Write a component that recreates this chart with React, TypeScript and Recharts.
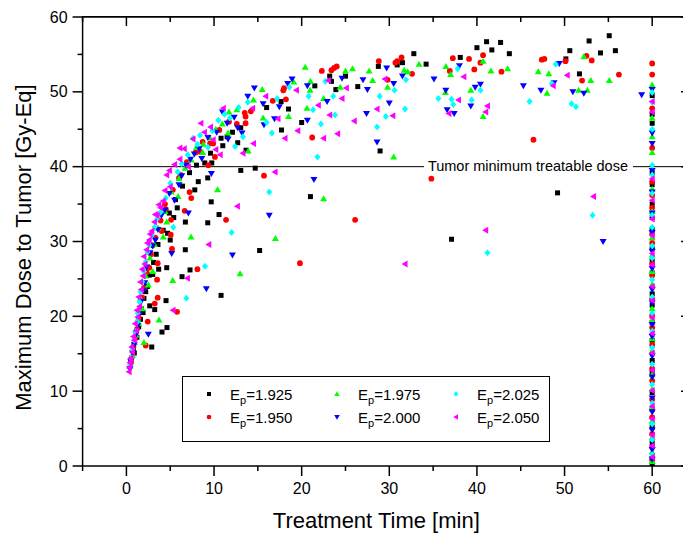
import { ScatterChart, Scatter, XAxis, YAxis, ReferenceLine, Legend, Label } from "recharts";

const FONT = '"Liberation Sans", Arial, sans-serif';

const xTicks = [-5, 0, 5, 10, 15, 20, 25, 30, 35, 40, 45, 50, 55, 60, 65];
const yTicks = [0, 5, 10, 15, 20, 25, 30, 35, 40, 45, 50, 55, 60];
const X_MIN = -5;
const X_MAX = 65;
const Y_MIN = 0;
const Y_MAX = 60;

const thresholdDose = 40;
const thresholdText = "Tumor minimum treatable dose";

// [treatment time, max dose] per beam energy
const ep1925: [number, number][] = [
  [0.5, 13.8], [0.8, 15.5], [0.9, 15.1], [1.2, 17.2], [1.4, 18.6], [1.6, 19.6], [1.7, 21.0], [1.9, 20.5],
  [2.0, 22.4], [2.2, 23.3], [2.4, 24.0], [2.6, 25.5], [2.66, 21.4], [2.89, 15.9], [3.0, 25.6], [3.1, 27.2],
  [3.23, 20.9], [3.4, 28.3], [3.6, 29.6], [3.68, 26.3], [4.06, 17.9], [4.2, 31.5], [4.52, 22.1], [4.6, 26.5],
  [4.63, 18.5], [4.7, 31.1], [4.9, 33.8], [5.0, 30.2], [5.4, 33.2], [5.6, 35.6], [5.8, 34.5], [6.35, 25.3],
  [6.4, 37.4], [6.72, 28.9], [6.73, 32.6], [7.2, 39.2], [7.26, 26.2], [7.8, 36.9], [8.0, 40.2], [8.2, 38.0],
  [8.94, 40.5], [9.28, 38.5], [9.28, 32.5], [9.6, 41.8], [9.68, 35.3], [9.74, 40.5], [10.57, 33.6], [10.8, 22.8],
  [10.8, 43.8], [11.0, 42.8], [11.5, 44.0], [12.1, 44.6], [12.7, 43.2], [13.05, 45.2], [13.05, 39.5], [13.65, 42.2],
  [14.7, 39.8], [15.2, 28.8], [16.0, 47.9], [17.65, 48.7], [17.7, 44.9], [18.5, 47.7], [20.0, 45.9], [21.0, 36.0],
  [21.5, 50.8], [23.2, 52.1], [23.4, 51.4], [23.9, 50.3], [25.0, 52.1], [26.4, 50.7], [28.75, 53.4], [28.95, 42.1],
  [30.9, 53.6], [31.5, 53.9], [32.8, 55.1], [34.2, 53.7], [37.1, 30.3], [38.1, 54.6], [40.0, 55.9], [41.1, 56.7],
  [41.7, 55.6], [42.7, 56.6], [43.7, 55.1], [49.2, 36.5], [50.15, 54.4], [50.6, 55.5], [51.7, 52.4], [52.8, 56.8],
  [54.1, 55.2], [55.1, 57.5], [55.8, 55.5],
];
const ep1950: [number, number][] = [
  [0.5, 13.9], [0.6, 14.5], [0.8, 16.0], [1.0, 17.0], [1.2, 18.3], [1.4, 19.8], [1.6, 21.1], [1.8, 22.5],
  [2.0, 23.8], [2.2, 16.1], [2.3, 25.9], [2.43, 19.3], [2.6, 26.5], [2.8, 28.3], [3.0, 29.5], [3.23, 21.7],
  [3.3, 30.5], [3.5, 24.9], [3.57, 22.5], [3.57, 27.1], [3.9, 32.8], [4.03, 31.4], [4.4, 35.0], [4.5, 34.3],
  [5.06, 30.9], [5.1, 32.9], [5.2, 29.0], [5.3, 36.9], [5.78, 20.6], [6.0, 38.5], [6.2, 38.9], [6.65, 34.1],
  [6.9, 40.6], [7.2, 36.6], [7.4, 35.8], [7.9, 41.9], [8.1, 26.3], [8.4, 42.0], [8.7, 43.3], [9.35, 40.2],
  [9.54, 43.1], [9.9, 43.1], [10.1, 41.3], [10.6, 44.9], [11.37, 32.9], [11.7, 46.0], [12.6, 45.7], [13.5, 47.2],
  [13.6, 46.7], [13.6, 45.8], [14.2, 47.4], [15.7, 38.8], [16.7, 48.8], [17.9, 50.2], [18.0, 50.5], [18.2, 49.0],
  [19.8, 27.1], [21.2, 43.9], [22.3, 52.8], [23.4, 52.9], [23.7, 53.2], [24.0, 53.4], [26.1, 32.9], [28.8, 54.1],
  [29.8, 51.6], [30.7, 53.9], [30.9, 54.1], [31.4, 54.6], [32.6, 52.4], [34.8, 38.4], [36.9, 52.8], [37.25, 54.5],
  [39.1, 54.4], [39.7, 53.0], [40.4, 53.9], [40.7, 54.9], [42.8, 52.7], [46.45, 43.6], [47.4, 54.3], [47.7, 54.4],
  [50.1, 54.1], [52.0, 51.5], [52.5, 54.8], [53.1, 54.2], [56.2, 52.3],
];
const ep1975: [number, number][] = [
  [0.4, 13.3], [0.7, 14.8], [0.9, 16.5], [1.1, 17.5], [1.3, 19.6], [1.4, 19.0], [1.6, 22.4], [1.8, 21.0],
  [2.0, 16.5], [2.2, 25.4], [2.5, 24.2], [2.7, 27.8], [3.0, 26.0], [3.2, 29.6], [3.6, 31.8], [3.72, 19.5],
  [4.2, 30.6], [4.4, 34.0], [4.6, 32.6], [5.1, 36.6], [5.28, 24.8], [5.9, 36.0], [6.0, 38.4], [6.7, 39.8],
  [7.37, 30.6], [7.4, 40.9], [8.0, 42.6], [8.7, 41.9], [8.78, 43.0], [9.5, 43.9], [10.2, 45.0], [10.4, 36.9],
  [10.95, 45.7], [11.6, 44.5], [11.7, 47.3], [12.6, 47.6], [12.97, 25.7], [13.9, 42.1], [14.5, 48.9], [15.5, 50.3],
  [15.6, 46.5], [17.0, 30.4], [18.5, 46.7], [19.1, 51.3], [20.4, 53.3], [20.6, 47.8], [20.96, 50.2], [21.0, 51.4],
  [22.5, 35.7], [22.5, 49.1], [24.4, 50.6], [25.0, 52.8], [25.8, 53.1], [27.7, 52.8], [28.1, 51.5], [29.8, 50.6],
  [30.5, 41.3], [31.7, 52.9], [32.1, 52.7], [33.4, 53.7], [36.4, 49.9], [36.45, 53.4], [37.0, 52.3], [39.3, 50.2],
  [40.7, 54.1], [40.7, 46.7], [41.6, 52.8], [43.5, 53.1], [47.0, 52.7], [48.0, 49.8], [48.2, 52.4], [51.6, 50.2],
  [52.2, 54.7], [52.6, 50.2], [53.0, 51.5], [55.1, 51.5],
];
const ep2000: [number, number][] = [
  [0.4, 13.0], [0.5, 14.0], [0.7, 15.1], [0.9, 16.2], [1.1, 17.6], [1.3, 18.8], [1.5, 20.3], [1.7, 22.0],
  [1.9, 23.4], [2.1, 24.5], [2.3, 26.6], [2.5, 17.6], [2.7, 28.5], [3.0, 29.4], [3.3, 30.2], [3.6, 31.6],
  [4.0, 33.5], [4.4, 34.2], [4.9, 36.4], [5.17, 28.4], [5.5, 35.5], [6.0, 37.6], [6.3, 38.8], [6.8, 40.2],
  [7.07, 33.8], [7.3, 41.0], [7.75, 41.7], [8.3, 42.4], [8.6, 41.1], [9.12, 23.7], [9.3, 43.9], [9.7, 39.1],
  [10.3, 44.6], [10.95, 47.3], [11.5, 45.8], [11.6, 43.7], [12.1, 28.2], [12.3, 46.6], [12.7, 45.2], [13.2, 44.5],
  [13.85, 49.4], [14.6, 50.5], [15.6, 48.4], [15.7, 45.6], [16.3, 33.5], [16.9, 46.4], [17.45, 48.0], [18.4, 51.1],
  [18.9, 51.7], [20.65, 46.2], [20.65, 50.8], [21.4, 38.3], [22.9, 48.7], [24.6, 51.8], [27.0, 51.6], [27.4, 47.1],
  [27.5, 50.3], [28.6, 43.3], [29.7, 53.2], [30.0, 48.5], [30.5, 51.1], [31.5, 52.1], [35.1, 51.7], [36.45, 50.2],
  [36.6, 47.6], [37.4, 47.1], [38.0, 53.5], [39.3, 48.1], [39.8, 50.6], [40.4, 51.0], [45.3, 50.8], [47.3, 50.2],
  [48.8, 51.2], [49.4, 53.8], [50.95, 50.0], [52.2, 49.8], [54.4, 30.0], [58.8, 49.6],
];
const ep2025: [number, number][] = [
  [0.4, 13.5], [0.5, 14.4], [0.7, 15.6], [0.9, 16.8], [1.0, 18.0], [1.2, 19.2], [1.3, 20.4], [1.5, 21.9],
  [1.6, 23.3], [1.8, 24.6], [2.0, 26.0], [2.2, 27.3], [2.4, 28.6], [2.6, 29.5], [2.9, 30.8], [3.2, 31.9],
  [3.5, 33.0], [3.9, 33.9], [4.5, 35.8], [5.0, 37.8], [5.35, 31.9], [5.86, 39.3], [6.3, 40.4], [6.84, 22.4],
  [7.0, 41.6], [7.6, 43.8], [8.1, 43.0], [8.4, 44.2], [8.97, 26.7], [9.3, 42.6], [9.8, 44.8], [10.5, 46.2],
  [11.2, 47.0], [11.8, 46.5], [12.0, 31.2], [12.4, 42.7], [12.8, 47.9], [13.3, 44.0], [13.85, 48.6], [16.0, 45.9],
  [16.3, 36.6], [16.6, 44.5], [17.2, 49.1], [18.6, 50.6], [20.8, 49.4], [21.3, 47.6], [21.8, 41.3], [22.2, 45.7],
  [22.7, 51.4], [23.6, 49.4], [23.8, 46.9], [28.6, 45.3], [28.9, 49.4], [29.6, 46.7], [30.6, 50.2], [31.8, 47.7],
  [31.9, 51.6], [35.6, 49.1], [37.1, 49.0], [37.3, 48.3], [37.8, 53.1], [39.4, 48.9], [40.4, 50.2], [41.2, 28.5],
  [46.0, 48.7], [48.55, 51.1], [49.0, 53.7], [50.8, 48.4], [51.3, 48.0], [53.2, 33.5],
];
const ep2050: [number, number][] = [
  [0.3, 12.6], [0.35, 13.2], [0.4, 13.8], [0.5, 14.4], [0.6, 15.9], [0.7, 15.2], [0.8, 17.3], [0.9, 16.8],
  [1.0, 19.0], [1.1, 18.1], [1.2, 20.8], [1.3, 19.9], [1.4, 22.6], [1.5, 21.3], [1.6, 24.6], [1.7, 23.6],
  [1.8, 26.3], [1.9, 25.4], [2.0, 28.0], [2.1, 27.0], [2.3, 28.9], [2.4, 29.8], [2.6, 30.2], [2.7, 31.0],
  [2.9, 31.4], [3.2, 32.6], [3.3, 33.6], [3.5, 33.5], [3.7, 34.9], [3.9, 34.5], [4.2, 35.4], [4.4, 36.8],
  [4.6, 38.9], [4.9, 39.5], [5.0, 37.3], [5.32, 20.8], [5.5, 40.3], [6.1, 42.5], [6.1, 41.0], [6.6, 42.4],
  [6.96, 25.1], [7.07, 40.0], [7.6, 43.7], [8.5, 45.8], [8.9, 44.6], [9.4, 29.6], [9.6, 45.3], [9.9, 43.6],
  [10.2, 42.3], [10.7, 41.6], [11.06, 47.8], [12.66, 34.7], [13.3, 41.8], [14.4, 47.8], [14.5, 43.1], [15.9, 49.4],
  [16.96, 39.3], [17.3, 46.4], [18.1, 43.8], [19.4, 50.2], [19.55, 44.8], [21.9, 48.2], [22.5, 43.8], [23.05, 51.5],
  [23.2, 46.9], [24.1, 44.4], [24.6, 49.1], [25.1, 50.5], [26.0, 46.1], [28.6, 47.7], [29.5, 51.7], [30.4, 46.8],
  [31.8, 27.0], [36.8, 47.1], [37.9, 48.9], [38.5, 52.0], [41.0, 31.5], [41.0, 47.3], [41.2, 48.1], [48.7, 50.8],
  [50.3, 52.2], [53.3, 36.0],
];

// cases stopped at the 60 min limit
const ep1925At60 = [49.5, 47.0, 45.8, 39.2, 37.6, 35.0, 33.2, 31.6, 29.1, 27.4, 25.8, 23.0, 21.5, 19.2, 16.8, 14.1, 12.5, 9.8, 7.6, 5.2, 3.1, 1.0, 0.2];
const ep1950At60 = [53.8, 52.3, 47.8, 42.5, 38.0, 36.2, 34.5, 31.0, 29.8, 27.0, 25.5, 22.3, 20.1, 18.5, 16.2, 13.0, 11.4, 8.9, 6.5, 4.3, 2.5, 0.8];
const ep1975At60 = [50.9, 46.5, 44.0, 41.9, 37.0, 34.0, 30.5, 28.2, 26.0, 24.3, 21.0, 19.5, 17.0, 15.4, 12.2, 10.3, 7.9, 6.0, 3.8, 1.9, 0.6];
const ep2000At60 = [50.3, 44.5, 43.1, 39.5, 36.6, 33.8, 31.2, 28.7, 26.4, 23.6, 21.8, 18.9, 17.3, 14.7, 11.9, 9.1, 7.2, 4.8, 2.2, 0.9];
const ep2025At60 = [49.9, 48.6, 45.0, 40.2, 38.9, 36.4, 33.5, 31.9, 29.4, 27.8, 24.9, 22.6, 20.4, 18.0, 15.8, 13.6, 10.9, 8.4, 5.6, 3.5, 1.5];
const ep2050At60 = [48.7, 47.3, 38.4, 35.5, 33.0, 30.8, 28.4, 26.9, 24.0, 22.1, 19.8, 17.7, 15.1, 12.8, 10.1, 8.0, 6.3, 4.1, 2.7, 1.2];

const series = [
  { label: "1.925", color: "#000000", kind: "square", points: ep1925, at60: ep1925At60 },
  { label: "1.950", color: "#ff0000", kind: "circle", points: ep1950, at60: ep1950At60 },
  { label: "1.975", color: "#00ff00", kind: "up", points: ep1975, at60: ep1975At60 },
  { label: "2.000", color: "#0000ff", kind: "down", points: ep2000, at60: ep2000At60 },
  { label: "2.025", color: "#00ffff", kind: "diamond", points: ep2025, at60: ep2025At60 },
  { label: "2.050", color: "#ff00ff", kind: "left", points: ep2050, at60: ep2050At60 },
];

function Marker({ cx, cy, kind, color, s = 1 }: any) {
  if (cx == null || cy == null) return null;
  const a = 3.5 * s;
  const b = 2.5 * s;
  switch (kind) {
    case "square":
      return <rect x={cx - 2.5 * s} y={cy - 2.5 * s} width={5 * s} height={5 * s} fill={color} />;
    case "circle":
      return <circle cx={cx} cy={cy} r={2.9 * s} fill={color} />;
    case "up":
      return <polygon points={`${cx},${cy - a} ${cx - a},${cy + b} ${cx + a},${cy + b}`} fill={color} />;
    case "down":
      return <polygon points={`${cx},${cy + a} ${cx - a},${cy - b} ${cx + a},${cy - b}`} fill={color} />;
    case "diamond":
      return <polygon points={`${cx},${cy - a} ${cx + 3 * s},${cy} ${cx},${cy + a} ${cx - 3 * s},${cy}`} fill={color} />;
    default:
      return <polygon points={`${cx - a},${cy} ${cx + b},${cy - a} ${cx + b},${cy + a}`} fill={color} />;
  }
}

function BottomTick({ x, y, payload }: any) {
  const v = payload.value;
  const major = v % 10 === 0;
  return (
    <g>
      <line x1={x} x2={x} y1={y} y2={y + (major ? 10 : 5)} stroke="#000" strokeWidth={1.5} />
      {major && (
        <text x={x} y={y + 28} textAnchor="middle" fontSize={16} fontFamily={FONT} fill="#000">
          {v}
        </text>
      )}
    </g>
  );
}

function LeftTick({ x, y, payload }: any) {
  const v = payload.value;
  const major = v % 10 === 0;
  return (
    <g>
      <line x1={x} x2={x - (major ? 10 : 5)} y1={y} y2={y} stroke="#000" strokeWidth={1.5} />
      {major && (
        <text x={x - 15} y={y + 5.5} textAnchor="end" fontSize={16} fontFamily={FONT} fill="#000">
          {v}
        </text>
      )}
    </g>
  );
}

function YTitle({ viewBox }: any) {
  const x = viewBox.x + 31;
  const y = viewBox.y + viewBox.height / 2 + 6;
  return (
    <text x={x} y={y} transform={`rotate(-90 ${x} ${y})`} textAnchor="middle" fontSize={22} fontFamily={FONT} fill="#000">
      Maximum Dose to Tumor [Gy-Eq]
    </text>
  );
}

function XTitle({ viewBox }: any) {
  const x = viewBox.x + viewBox.width / 2 - 13;
  const y = viewBox.y + viewBox.height;
  return (
    <text x={x} y={y} textAnchor="middle" fontSize={22} fontFamily={FONT} fill="#000">
      Treatment Time [min]
    </text>
  );
}

function ThresholdLabel({ viewBox }: any) {
  const end = viewBox.x + viewBox.width - 68;
  return (
    <g>
      <rect x={end - 204} y={viewBox.y - 3} width={209} height={6} fill="#fff" />
      <text x={end} y={viewBox.y + 4.5} textAnchor="end" fontSize={14.5} fontFamily={FONT} fill="#000">
        {thresholdText}
      </text>
    </g>
  );
}

function LegendBox() {
  return (
    <svg width={368} height={66} style={{ display: "block" }}>
      <rect x={0.5} y={0.5} width={367} height={65} fill="#fff" stroke="#000" strokeWidth={1} />
      {series.map((s, i) => {
        const col = Math.floor(i / 2);
        const row = i % 2;
        const mx = [27, 155, 274][col];
        const my = row === 0 ? 18 : 41;
        return (
          <g key={s.label}>
            <Marker cx={mx} cy={my} kind={s.kind} color={s.color} s={0.8} />
            <text x={mx + 21} y={my + 5.5} fontSize={15} fontFamily={FONT} fill="#000">
              E
              <tspan fontSize={11} dy={4}>p</tspan>
              <tspan fontSize={15} dy={-4}>={s.label}</tspan>
            </text>
          </g>
        );
      })}
    </svg>
  );
}

const frameStroke = { stroke: "#000", strokeWidth: 1.5 };

export default function App() {
  return (
    <div style={{ position: "fixed", left: 0, top: 0, width: 683, height: 538, overflow: "hidden", background: "#fff" }}>
      <ScatterChart width={720} height={538} margin={{ top: 17, right: 24, bottom: 10, left: 0 }} style={{ fontFamily: FONT }}>
        <XAxis
          type="number"
          dataKey="x"
          domain={[X_MIN, X_MAX]}
          ticks={xTicks}
          interval={0}
          allowDataOverflow
          height={62}
          tickSize={0}
          tickMargin={0}
          tickLine={false}
          tick={<BottomTick />}
          axisLine={frameStroke}
          label={<Label content={<XTitle />} />}
        />
        <YAxis
          type="number"
          dataKey="y"
          domain={[Y_MIN, Y_MAX]}
          ticks={yTicks}
          interval={0}
          allowDataOverflow
          width={82.6}
          tickSize={0}
          tickMargin={0}
          tickLine={false}
          tick={<LeftTick />}
          axisLine={frameStroke}
          label={<Label content={<YTitle />} />}
        />
        {/* top and right frame with inward ticks */}
        <ReferenceLine y={Y_MAX} ifOverflow="visible" {...frameStroke} />
        <ReferenceLine x={X_MAX} ifOverflow="visible" {...frameStroke} />
        {xTicks.map((t) => (
          <ReferenceLine
            key={`tx${t}`}
            ifOverflow="visible"
            segment={[
              { x: t, y: Y_MAX },
              { x: t, y: Y_MAX - (t % 10 === 0 ? 1.2 : 0.67) },
            ]}
            {...frameStroke}
          />
        ))}
        {yTicks.map((t) => (
          <ReferenceLine
            key={`ty${t}`}
            ifOverflow="visible"
            segment={[
              { x: X_MAX, y: t },
              { x: X_MAX - (t % 10 === 0 ? 1.7 : 0.6), y: t },
            ]}
            {...frameStroke}
          />
        ))}
        <ReferenceLine
          y={thresholdDose}
          stroke="#000"
          strokeWidth={1}
          label={<Label content={<ThresholdLabel />} />}
        />
        {series.map((s) => (
          <Scatter
            key={s.label}
            name={`Ep=${s.label}`}
            data={[...s.points, ...s.at60.map((d) => [60, d] as [number, number])].map(([x, y]) => ({ x, y }))}
            fill={s.color}
            isAnimationActive={false}
            shape={(p: any) => <Marker cx={p.cx} cy={p.cy} kind={s.kind} color={s.color} />}
          />
        ))}
        <Legend
          layout="horizontal"
          verticalAlign="middle"
          align="center"
          wrapperStyle={{ left: 182, top: 376, width: 368, height: 66 }}
          content={() => <LegendBox />}
        />
      </ScatterChart>
      {/* plot frame top edge */}
      <div
        style={{
          position: "absolute",
          left: 82,
          top: 16,
          width: 614,
          height: 450,
          borderTop: "1.5px solid #000",
          borderRight: "1.5px solid #000",
          boxSizing: "border-box",
          pointerEvents: "none",
        }}
      />
    </div>
  );
}
